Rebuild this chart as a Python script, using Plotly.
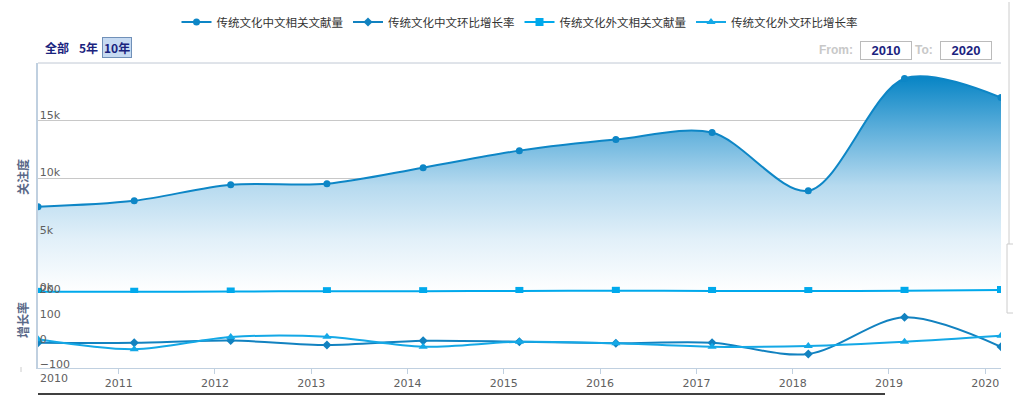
import plotly.graph_objects as go

years = [2010, 2011, 2012, 2013, 2014, 2015, 2016, 2017, 2018, 2019, 2020]
dates = [f"{y}-03-01" for y in years]

cn_count = [7500, 8020, 9420, 9500, 10900, 12380, 13340, 13950, 8890, 18650, 17000]
cn_growth = [1, 1, 10, -8, 9, 5, -1, 1, -44, 103, -15]
fr_count = [100, 110, 130, 160, 160, 180, 190, 180, 170, 190, 260]
fr_growth = [15, -25, 24, 25, -15, 5, -1, -15, -12, 5, 29]

names = ["传统文化中文相关文献量", "传统文化中文环比增长率", "传统文化外文相关文献量", "传统文化外文环比增长率"]
colors = ["#0d86c6", "#1282c0", "#00a9ec", "#14a8e6"]

top_ticks = [0, 5000, 10000, 15000]
top_text = ["0k", "5k", "10k", "15k"]
bot_ticks = [-100, 0, 100, 200]
x_ticks = [f"{y}-01-01" for y in years[1:]]
x_text = [str(y) for y in years[1:]]

W, H = 1013, 396
L, R, T, B = 38, 1001, 63, 368
split = 293


def px(x):
    return (x - L) / (R - L)


def py(y):
    return (B - y) / (B - T)


fig = go.Figure()

fig.add_trace(go.Scatter(
    x=dates, y=cn_count, name=names[0], mode="lines+markers",
    line=dict(color=colors[0], width=2, shape="spline", smoothing=0.9),
    marker=dict(symbol="circle", size=7, color=colors[0]),
    fill="tozeroy",
    fillgradient=dict(type="vertical",
                      colorscale=[[0, "#ffffff"], [0.25, "#e2f0f9"], [0.5, "#b6daef"],
                                  [0.75, "#62b1dc"], [1, "#0a86c6"]],
                      start=0, stop=max(cn_count)),
    showlegend=False, xaxis="x", yaxis="y"))
fig.add_trace(go.Scatter(
    x=[None], y=[None], name=names[0], mode="lines+markers",
    line=dict(color=colors[0], width=2), marker=dict(symbol="circle", size=7, color=colors[0]),
    xaxis="x", yaxis="y"))
fig.add_trace(go.Scatter(
    x=dates, y=cn_growth, name=names[1], mode="lines+markers",
    line=dict(color=colors[1], width=2, shape="spline", smoothing=0.9),
    marker=dict(symbol="diamond", size=7, color=colors[1]),
    xaxis="x", yaxis="y2"))
fig.add_trace(go.Scatter(
    x=dates, y=fr_count, name=names[2], mode="lines+markers",
    line=dict(color=colors[2], width=2, shape="spline", smoothing=0.9),
    marker=dict(symbol="square", size=8, color=colors[2]),
    xaxis="x", yaxis="y"))
fig.add_trace(go.Scatter(
    x=dates, y=fr_growth, name=names[3], mode="lines+markers",
    line=dict(color=colors[3], width=2, shape="spline", smoothing=0.9),
    marker=dict(symbol="triangle-up", size=8, color=colors[3]),
    xaxis="x", yaxis="y2"))

tickfont = dict(family="DejaVu Sans", size=11, color="#606060")
axcol = "#c0d0e0"

fig.update_layout(
    width=W, height=H,
    margin=dict(l=L, r=W - R, t=T, b=H - B, pad=0, autoexpand=False),
    paper_bgcolor="white", plot_bgcolor="white",
    font=dict(family="Noto Sans CJK SC, DejaVu Sans", size=12, color="#333333"),
    showlegend=True,
    legend=dict(orientation="h", x=0.5, xanchor="center", y=py(22), yanchor="middle",
                font=dict(family="Noto Sans CJK SC", size=11.5, color="#333333"),
                itemwidth=30, bgcolor="rgba(0,0,0,0)"),
    xaxis=dict(type="date", range=[dates[0], dates[-1]], anchor="y2", domain=[0, 1],
               tickvals=x_ticks, ticktext=x_text, showgrid=False, zeroline=False,
               showline=True, linecolor=axcol, linewidth=1, ticks="outside", ticklen=5,
               tickcolor=axcol, tickfont=tickfont),
    yaxis=dict(domain=[py(split), 1], anchor="x", range=[0, 20000],
               tickvals=top_ticks, ticktext=top_text, showgrid=True, gridcolor="#c8c8c8",
               gridwidth=1, zeroline=False, showline=True, linecolor=axcol, linewidth=2,
               ticks="", ticklabelposition="inside top", ticklabeloverflow="allow",
               ticklabelshift=2, tickfont=tickfont),
    yaxis2=dict(domain=[0, py(split)], anchor="x", range=[-100, 200],
                tickvals=bot_ticks, showgrid=False, zeroline=False, showline=True,
                linecolor=axcol, linewidth=2, ticks="", ticklabelposition="inside top",
                ticklabeloverflow="allow", ticklabelshift=4, tickfont=tickfont),
)

ann = []
ann.append(dict(xref="paper", yref="paper", x=0, y=py(378), xanchor="left", yanchor="middle",
                text="2010", showarrow=False, font=tickfont))
ann.append(dict(xref="paper", yref="paper", x=px(22), y=py(177), xanchor="center", yanchor="middle",
                text="<b>关注度</b>", textangle=-90, showarrow=False,
                font=dict(family="Noto Sans CJK SC", size=12, color="#5a6888")))
ann.append(dict(xref="paper", yref="paper", x=px(22), y=py(320), xanchor="center", yanchor="middle",
                text="<b>增长率</b>", textangle=-90, showarrow=False,
                font=dict(family="Noto Sans CJK SC", size=12, color="#5a6888")))
sel_font = dict(family="Noto Sans CJK SC, DejaVu Sans", size=12, color="#1a237e")
ann.append(dict(xref="paper", yref="paper", x=px(57), y=py(47), text="<b>全部</b>", showarrow=False,
                font=sel_font, xanchor="center", yanchor="middle"))
ann.append(dict(xref="paper", yref="paper", x=px(88), y=py(47), text="<b>5年</b>", showarrow=False,
                font=sel_font, xanchor="center", yanchor="middle"))
ann.append(dict(xref="paper", yref="paper", x=px(117), y=py(47), text="<b>10年</b>", showarrow=False,
                font=sel_font, xanchor="center", yanchor="middle", bgcolor="#c6daf2",
                bordercolor="#7090b8", borderwidth=1, borderpad=1))
inp_font = dict(family="Liberation Sans", size=13, color="#1a237e")
ann.append(dict(xref="paper", yref="paper", x=px(855), y=py(50), text="<b>From:</b>", showarrow=False,
                font=dict(family="Liberation Sans", size=12, color="#c8c8c8"), xanchor="right",
                yanchor="middle"))
ann.append(dict(xref="paper", yref="paper", x=px(886), y=py(50), text="<b>2010</b>", showarrow=False,
                font=inp_font, xanchor="center", yanchor="middle", width=48, height=15,
                bordercolor="#bbbbbb", borderwidth=1, borderpad=1))
ann.append(dict(xref="paper", yref="paper", x=px(935), y=py(50), text="<b>To:</b>", showarrow=False,
                font=dict(family="Liberation Sans", size=12, color="#c8c8c8"), xanchor="right",
                yanchor="middle"))
ann.append(dict(xref="paper", yref="paper", x=px(966), y=py(50), text="<b>2020</b>", showarrow=False,
                font=inp_font, xanchor="center", yanchor="middle", width=48, height=15,
                bordercolor="#bbbbbb", borderwidth=1, borderpad=1))
fig.update_layout(annotations=ann)

shapes = [
    dict(type="line", xref="paper", yref="paper", x0=0, x1=1, y0=1, y1=1,
         line=dict(color="#c0c8d4", width=1)),
    dict(type="line", xref="paper", yref="paper", x0=0, x1=px(885), y0=py(394), y1=py(394),
         line=dict(color="#404040", width=2)),
    dict(type="line", xref="paper", yref="paper", x0=px(1009), x1=px(1009), y0=py(2), y1=py(244),
         line=dict(color="#cccccc", width=1)),
    dict(type="rect", xref="paper", yref="paper", x0=px(1007), x1=px(1014), y0=py(244), y1=py(313),
         line=dict(color="#cccccc", width=1)),
    dict(type="line", xref="paper", yref="paper", x0=px(21), x1=px(21), y0=py(367), y1=py(372),
         line=dict(color="#cccccc", width=1)),
]
fig.update_layout(shapes=shapes)

fig.write_html("out.html", config={"displayModeBar": False},
               post_script="document.body.style.margin='0';document.body.style.overflow='hidden';")
